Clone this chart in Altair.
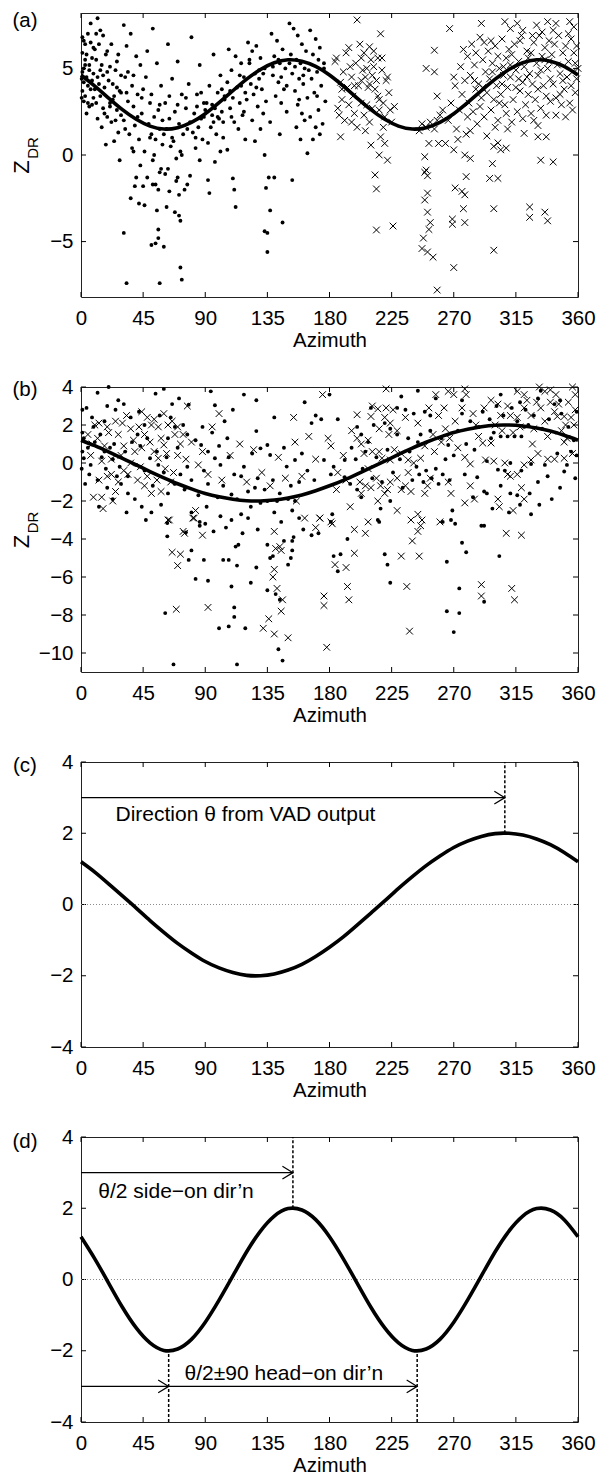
import altair as alt
import pandas as pd

FONT = "Liberation Sans"
FS = 20.5
W = 497
X_TICKS = [0, 45, 90, 135, 180, 225, 270, 315, 360]
Y_TICKS_A = [-5, 0, 5]
Y_TICKS_B = [-10, -8, -6, -4, -2, 0, 2, 4]
Y_TICKS_CD = [-4, -2, 0, 2, 4]

CURVE_AZ = [0, 10, 20, 30, 40, 50, 60, 70, 80, 90, 100, 110, 120, 130, 140, 150, 160, 170, 180,
            190, 200, 210, 220, 230, 240, 250, 260, 270, 280, 290, 300, 310, 320, 330, 340, 350, 360]
CURVE_A = [4.62, 3.98, 3.29, 2.62, 2.06, 1.67, 1.50, 1.58, 1.88, 2.38, 3.02, 3.71, 4.38, 4.94, 5.33, 5.50, 5.42, 5.12, 4.62,
           3.98, 3.29, 2.62, 2.06, 1.67, 1.50, 1.58, 1.88, 2.38, 3.02, 3.71, 4.38, 4.94, 5.33, 5.50, 5.42, 5.12, 4.62]
CURVE_BC = [1.20, 0.91, 0.58, 0.24, -0.10, -0.45, -0.78, -1.09, -1.36, -1.60, -1.78, -1.91, -1.99, -2.00, -1.95, -1.84, -1.68, -1.46, -1.20,
            -0.91, -0.58, -0.24, 0.10, 0.45, 0.78, 1.09, 1.36, 1.60, 1.78, 1.91, 1.99, 2.00, 1.95, 1.84, 1.68, 1.46, 1.20]
CURVE_D = [1.20, 0.58, -0.10, -0.78, -1.36, -1.78, -1.99, -1.95, -1.68, -1.20, -0.58, 0.10, 0.78, 1.36, 1.78, 1.99, 1.95, 1.68, 1.20,
           0.58, -0.10, -0.78, -1.36, -1.78, -1.99, -1.95, -1.68, -1.20, -0.58, 0.10, 0.78, 1.36, 1.78, 1.99, 1.95, 1.68, 1.20]

# panel (a): filled dots (azimuth, Z_DR)
A_DOTS = [
    [1, 6.8], [2, 6.6], [1, 5.9], [3, 5.5], [2, 5.0], [1, 4.8], [4, 4.5], [2, 4.2], [5, 4.0], [1, 3.7], [3, 3.4], [2, 3.1],
    [6, 2.8], [4, 2.4], [7, 6.5], [8, 5.6], [6, 5.2], [9, 4.7], [8, 4.3], [7, 3.8], [9, 3.3], [5, 3.0], [8, 2.9], [9, 6.2],
    [3, 6.4], [5, 7.0], [0.5, 4.4], [0.5, 3.3], [6, 4.9], [4, 5.8],
    [12, 7.9], [7, 7.6], [14, 7.2], [11, 7.0], [16, 6.9], [13, 6.4], [18, 5.8], [11, 5.5], [15, 5.2], [19, 4.8], [12, 4.5],
    [17, 3.9], [14, 3.4], [11, 3.0], [16, 2.7], [19, 2.2], [15, 1.6], [18, 0.6], [13, 4.1], [19, 6.0], [17, 2.4], [10, 3.8],
    [12, 2.1], [16, 4.6],
    [22, 6.4], [27, 5.8], [21, 5.1], [25, 4.9], [29, 4.6], [23, 4.1], [28, 3.7], [24, 3.4], [21, 3.0], [26, 2.6], [29, 2.3],
    [22, 1.9], [27, 1.3], [24, 0.8], [28, -0.3], [26, 5.4], [23, 3.2], [21, 2.8], [25, 2.0], [29, 3.6],
    [31, 7.5], [36, 7.0], [33, 6.3], [40, 5.7], [43, 5.2], [32, 4.5], [37, 4.0], [41, 3.5], [34, 3.1], [38, 2.8], [44, 2.4],
    [31, 2.0], [39, 1.7], [35, 1.2], [42, 0.9], [37, 0.4], [43, -0.6], [40, -1.3], [39, -1.8], [45, -1.8], [36, -2.5],
    [42, -2.8], [46, -2.9], [31, -4.5], [33, -7.4], [32, 1.5], [41, 2.2], [44, 3.3], [38, 0.2], [34, 4.8],
    [52, 7.3], [48, 6.0], [55, 5.3], [47, 4.5], [58, 4.0], [50, 3.0], [56, 2.6], [53, 2.2], [49, 1.8], [57, 1.5], [51, 1.2],
    [54, 0.9], [59, 0.6], [46, 0.2], [52, -0.3], [57, -1.0], [48, -1.3], [52, -1.7], [54, -1.7], [56, -2.0], [55, -3.2],
    [56, -4.3], [56, -4.8], [51, -5.2], [54, -5.1], [57, -7.4], [60, -5.3], [53, 0.0], [50, 1.0], [58, -0.8], [59, 2.0],
    [63, 6.4], [70, 5.4], [66, 4.4], [73, 3.5], [61, 3.0], [68, 2.5], [64, 2.1], [71, 1.8], [62, 1.5], [74, 1.2], [67, 0.8],
    [65, 0.5], [72, 0.2], [69, -0.2], [63, -0.8], [70, -1.3], [69, -1.5], [64, -2.1], [71, -2.3], [62, -3.0], [68, -3.3],
    [71, -3.5], [72, -3.8], [72, -6.5], [73, -7.2], [75, -2.0], [77, -1.7], [66, 1.0], [73, 0.0], [61, -1.1],
    [80, 6.8], [86, 5.2], [78, 4.1], [84, 3.5], [89, 3.0], [76, 2.7], [82, 2.4], [87, 2.1], [79, 1.9], [85, 1.6], [81, 1.3],
    [88, 0.9], [83, 0.4], [86, -0.3], [79, -1.2], [92, -1.45], [93, -2.2], [84, 2.8], [77, 1.5], [89, 2.2],
    [96, 5.8], [101, 4.6], [93, 4.0], [99, 3.6], [104, 3.2], [91, 3.0], [97, 2.7], [102, 2.5], [95, 2.3], [100, 2.1],
    [103, 1.9], [94, 1.6], [98, 1.2], [92, 0.7], [101, 0.2], [97, -0.4], [104, 3.4], [95, 2.9], [99, 2.2], [103, 1.0],
    [107, 6.1], [112, 5.7], [116, 5.3], [109, 4.9], [118, 4.5], [106, 4.2], [113, 3.9], [119, 3.6], [110, 3.3], [115, 3.0],
    [108, 2.7], [117, 2.3], [111, 1.9], [114, 1.5], [119, 0.9], [106, 0.3], [110, -1.35], [111, -2.0], [112, -3.0],
    [116, 4.0], [108, 3.7], [118, 2.5],
    [121, 6.5], [127, 6.3], [124, 6.0], [130, 5.6], [122, 5.3], [133, 5.0], [126, 4.7], [129, 4.4], [123, 4.1], [131, 3.8],
    [125, 3.5], [134, 3.1], [128, 2.8], [132, 2.4], [124, 2.0], [130, 1.5], [126, 0.8], [133, 0.0], [134, -1.9],
    [136, -1.3], [137, -3.2], [133, -4.4], [135, -4.5], [135, -5.6], [129, 4.9], [122, 5.5],
    [138, 7.0], [142, 6.6], [146, 6.1], [140, 5.7], [144, 5.3], [148, 5.0], [139, 4.6], [143, 4.2], [147, 3.8], [141, 3.4],
    [145, 3.0], [149, 2.5], [137, 1.9], [144, 1.2], [140, -1.3], [146, -3.9], [143, 5.5], [149, 4.0],
    [151, 7.6], [154, 7.3], [157, 6.9], [160, 6.4], [163, 6.0], [152, 5.8], [156, 5.5], [159, 5.3], [162, 5.0], [153, 4.7],
    [158, 4.4], [161, 4.1], [155, 3.7], [164, 3.3], [157, 2.9], [160, 2.4], [153, -1.45], [162, 2.0], [156, 1.6],
    [159, 0.9], [164, 0.1], [155, 5.1], [161, 4.6],
    [166, 7.2], [170, 6.7], [173, 6.2], [168, 5.8], [176, 5.3], [171, 4.8], [167, 4.4], [174, 4.0], [169, 3.6], [177, 3.1],
    [172, 2.6], [166, 2.2], [175, 1.8], [170, 1.6], [173, 1.2], [168, 0.9], [171, 3.4], [176, 5.0],
    [3, 5.2], [10, 6.1], [14, 4.9], [20, 4.3], [26, 3.9], [33, 3.6], [38, 4.6], [45, 3.8], [51, 3.5], [57, 2.9], [64, 3.4],
    [70, 2.9], [76, 3.3], [83, 1.0], [90, 2.6], [96, 1.9], [102, 3.8], [109, 2.2], [115, 4.6], [120, 3.2], [127, 3.9],
    [132, 4.7], [139, 5.1], [145, 4.5], [151, 5.3], [158, 3.2], [165, 4.9], [172, 5.5], [87, 3.6], [60, 1.2],
]

# panel (a): crosses
A_CROSSES = [
    [185, 5.6], [184, 5.4], [188, 4.2], [189, 3.2], [186, 2.7], [187, 2.3], [191, 2.0], [188, 1.05], [194, 6.2], [195, 5.1],
    [193, 3.9], [197, 3.4], [198, 2.4], [200, 1.6], [202, 6.4], [203, 5.6], [204, 4.9], [206, 4.5], [208, 3.9], [209, 6.25],
    [210, 5.5], [212, 5.1], [214, 4.3], [215, 3.4], [216, 3.2], [211, 2.7], [209, 1.9], [205, 2.3], [221, 4.3], [222, 4.5],
    [217, 7.0], [200, 7.8], [217, 1.05], [210, 0.57], [220, 0.67], [216, 0.0], [222, -0.3], [213, -1.15], [214, -1.96],
    [214, -4.33], [226, -4.1],
    [190, 4.8], [192, 5.9], [196, 4.5], [199, 5.3], [201, 4.0], [203, 3.0], [205, 5.9], [207, 5.0], [207, 2.9], [211, 4.6],
    [213, 3.8], [218, 4.9], [219, 3.0], [220, 2.2], [223, 3.6], [224, 2.6], [218, 5.6], [212, 6.0], [198, 4.0], [194, 2.9],
    [206, 1.4], [216, 2.6], [219, 1.6], [225, 1.9], [227, 2.8], [203, 4.3], [209, 4.1], [215, 5.6], [189, 3.8], [196, 1.9],
    [247, 1.8], [250, 1.6], [253, 1.9], [256, 1.5], [258, 2.0], [245, 1.4], [260, 2.3], [262, 2.6],
    [252, 0.67], [259, 0.67], [264, 0.67], [270, 0.3], [278, 0.0], [282, -0.2], [249, -0.1], [250, -0.87], [249, -1.0],
    [251, -1.2], [251, -2.2], [249, -2.6], [251, -3.3], [253, -3.9], [252, -4.3], [248, -4.8], [247, -5.4], [251, -5.6],
    [255, -5.9], [258, -7.8], [269, -3.7], [269, -4.0], [270, -6.5], [271, -1.9], [276, -2.1], [278, -2.3], [277, -3.1],
    [278, -3.9], [279, -1.25], [296, -1.35], [302, -1.35], [299, -3.1], [299, -5.5], [325, -3.0], [325, -3.6], [336, -3.3],
    [338, -3.8], [298, -0.5], [299, 0.5], [302, 0.7], [304, 0.3], [308, 0.4], [321, 1.25], [331, 1.05], [337, 1.05],
    [331, 1.7], [333, -0.3], [342, -0.4],
    [267, 7.3], [256, 6.05], [250, 5.0], [256, 4.8], [270, 4.5], [258, 3.4], [290, 7.6], [307, 7.7], [311, 7.3], [316, 7.6],
    [320, 7.2], [330, 7.5], [338, 7.7], [344, 7.6], [354, 7.7], [357, 7.4],
    [266, 2.0], [268, 3.0], [272, 1.5], [274, 2.6], [276, 3.5], [279, 1.2], [271, 4.0], [275, 5.1], [278, 4.3], [280, 2.2],
    [273, 0.9], [277, 6.1], [280, 5.7],
    [281, 3.0], [282, 4.6], [283, 6.4], [284, 2.5], [285, 5.2], [286, 3.8], [287, 1.8], [288, 4.1], [289, 6.8], [290, 3.3],
    [291, 5.5], [292, 2.2], [293, 4.8], [294, 3.6], [295, 6.0], [282, 1.4], [286, 5.9], [289, 2.8], [292, 6.5], [294, 1.1],
    [285, 4.3], [291, 3.9],
    [296, 4.4], [297, 2.6], [298, 5.3], [299, 3.2], [300, 6.3], [301, 4.0], [302, 2.0], [303, 5.0], [304, 3.5], [305, 6.7],
    [306, 4.6], [307, 2.9], [308, 5.6], [309, 3.9], [310, 6.1], [297, 6.6], [300, 1.6], [303, 3.0], [306, 5.1], [309, 1.5],
    [298, 4.8], [305, 4.1], [302, 5.7], [308, 2.4],
    [311, 4.5], [312, 5.8], [313, 3.2], [314, 6.4], [315, 4.9], [316, 2.5], [317, 5.4], [318, 3.7], [319, 6.9], [320, 4.2],
    [321, 5.1], [322, 2.9], [323, 6.0], [324, 3.5], [325, 4.7], [312, 1.9], [315, 3.9], [318, 6.6], [320, 2.1], [323, 4.5],
    [311, 5.2], [317, 4.4], [324, 5.6], [326, 2.4],
    [326, 5.9], [327, 4.1], [328, 6.5], [329, 3.2], [330, 5.3], [331, 4.6], [332, 6.9], [333, 2.7], [334, 5.7], [335, 4.0],
    [336, 6.2], [337, 3.4], [338, 5.0], [339, 6.6], [340, 4.4], [328, 2.0], [331, 3.8], [334, 7.1], [337, 2.3], [339, 5.4],
    [327, 6.9], [333, 4.9], [336, 5.5], [340, 3.1],
    [341, 5.8], [342, 4.1], [343, 6.4], [344, 3.3], [345, 5.2], [346, 6.9], [347, 4.7], [348, 2.9], [349, 5.9], [350, 3.8],
    [351, 6.3], [352, 4.5], [353, 5.4], [354, 3.0], [355, 6.7], [356, 4.8], [357, 5.9], [358, 3.6], [359, 6.3], [360, 5.0],
    [344, 2.3], [349, 4.3], [353, 7.0], [356, 2.6], [358, 5.3], [342, 7.2], [347, 3.5], [351, 2.2], [355, 4.0], [359, 4.4],
]

# panel (b): filled dots
B_DOTS = [
    [1, 2.8], [4, 2.9], [12, 3.7], [19, 3.0], [27, 3.3], [31, 3.1], [25, 2.8], [42, 2.7], [54, 3.65], [66, 3.1], [71, 3.4],
    [78, 3.07], [94, 3.77], [97, 3.04], [88, 1.9], [104, 2.2], [106, 1.3], [127, 3.3], [127, 1.68], [130, 0.77], [135, 0.95],
    [137, 0.42], [149, -0.19], [155, 0.16], [87, 0.95], [92, 0.6], [97, 0.25], [101, -0.1], [111, -0.6], [116, -0.7],
    [121, -1.5], [126, -1.3], [109, -1.66], [92, -1.1], [99, -1.8], [91, -2.3], [101, -2.8], [109, -3.0], [116, -2.7],
    [123, -2.3], [130, -2.1], [135, -2.0], [142, -2.0], [150, -1.9], [155, -2.0], [121, -2.9],
    [1, 0.6], [2, 0.25], [7, -0.1], [6, -0.6], [15, 0.3], [17, 0.6], [21, 0.8], [24, 1.0], [12, -0.9], [19, -1.3],
    [29, -1.1], [34, -1.6], [39, -1.9], [44, -2.3], [51, -2.6], [58, -2.2], [63, -1.6], [68, -1.1], [72, -0.6], [77, -0.2],
    [46, -0.4], [50, 0.25], [56, -0.1], [34, -0.7], [28, -0.2], [63, 1.3], [68, 1.9], [74, 2.0], [77, 1.5], [41, 1.5],
    [46, 2.0], [36, 2.4], [17, 2.2], [9, 1.9], [2, 1.3], [10, 1.1],
    [0.5, -0.3], [1, 1.6], [3, -1.1], [5, 0.8], [8, 2.4], [14, 1.5], [18, -0.3], [23, 0.2], [26, -0.7], [32, 0.6], [37, 1.1],
    [40, -0.1], [43, 0.9], [48, 1.3], [52, -1.2], [55, 0.6], [60, -0.5], [62, 0.3], [65, 2.4], [70, 0.8], [75, -1.4],
    [80, -0.9], [83, 1.2], [85, -1.7], [89, -0.4], [95, 1.6], [100, 0.9], [103, -1.2], [107, 0.3], [113, -1.9], [118, -0.2],
    [124, 0.5], [128, -0.8], [133, -1.4], [139, -0.9], [144, -1.6], [147, 0.8], [152, -1.2], [57, 2.5], [33, -2.6],
    [23, -1.9], [13, -2.3], [47, -3.0], [80, -2.6], [86, -3.3], [96, -3.6], [140, -2.6], [145, -3.1], [158, -2.9],
    [62.5, -3.16], [62.5, -3.86], [61, -7.9], [67, -10.6], [76, -3.65], [78, -5.1], [80, -4.6], [83, -6.1], [86, -3.1],
    [89, -5.1], [92, -6.2], [90, -3.2], [103, -5.1], [105, -3.4], [107, -5.1], [109, -6.5], [111, -7.6], [111, -8.1],
    [100, -8.7], [107, -8.6], [113, -10.6], [112, -4.4], [114, -4.3], [113, -5.4], [117, -3.7], [119, -8.7], [123, -6.3],
    [127, -5.5], [128, -3.5], [135, -4.3], [135, -6.7], [137, -5.0], [139, -4.9], [141, -6.9], [144, -7.2], [143, -9.8],
    [146, -10.4], [147, -4.1], [150, -5.35], [153, -4.1], [153, -4.6], [152, -5.0], [154, -3.9], [161, -3.5], [167, -3.8],
    [172, -3.7], [181, -3.1], [183, -4.9], [186, -5.7], [188, -4.8], [193, -4.0], [220, -4.8], [222, -5.35], [224, -6.3],
    [216, -3.1], [265, -5.2], [265, -7.8], [270, -8.9], [271, -3.2], [274, -6.6], [274, -7.9], [276, -4.2], [279, -4.7],
    [292, -3.3], [292, -7.3], [303, -4.9], [262, -3.1],
    [244, 3.8], [304, 3.6], [331, 3.4], [333, 3.8], [343, 3.1], [229, 2.9], [235, 2.8], [241, 2.6], [249, 2.7], [253, 2.5],
    [200, 1.9], [203, 1.5], [212, 2.0], [220, 2.1], [224, 1.8], [229, 1.5], [237, 1.3], [244, 1.1], [246, 1.5], [253, 1.7],
    [261, 1.3], [266, 0.95], [297, 1.3], [299, 1.6], [304, 1.4], [309, 1.4], [314, 1.4], [319, 1.4], [321, 1.9], [324, 2.0],
    [294, 0.1], [302, -0.35], [307, -0.4], [311, 0.0], [319, -0.4], [326, -0.05], [336, -0.1], [345, 0.5], [352, -0.1],
    [355, 0.6], [350, -0.45], [338, -0.7], [331, -1.0], [325, -1.6], [332, -2.2], [326, -2.7], [167, 2.1], [170, 2.5],
    [174, 2.3], [186, 2.3], [176, 0.16], [183, -0.2], [191, 0.16], [160, 0.5], [164, -0.4], [158, -1.0], [169, -0.9],
    [181, -0.6], [191, -0.75], [195, -1.1], [200, -1.4], [203, -1.8], [182, -2.7], [153, -2.5], [215, -3.0], [268, -3.0],
    [290, -3.3], [269, -2.5], [224, -2.0], [217, -2.4], [292, -1.5], [294, -1.6], [287, -0.75], [304, -1.2], [311, -1.6],
    [316, -1.7],
    [196, 0.8], [199, 0.2], [204, -0.3], [206, 0.6], [208, 1.1], [211, -0.8], [214, 0.3], [218, -1.0], [222, 0.7],
    [226, -0.5], [231, 0.2], [233, -1.3], [238, 0.6], [240, -0.9], [243, -0.2], [245, -0.6], [248, -1.0], [250, -0.4],
    [254, -0.8], [257, -0.3], [259, -1.1], [262, -0.6], [264, 0.2], [267, -0.9], [270, 0.4], [273, 1.7], [276, 2.6],
    [279, 1.0], [282, 2.2], [285, 0.7], [288, 1.9], [291, 2.7], [296, 2.3], [301, 3.0], [306, 2.5], [312, 2.9], [316, 2.2],
    [322, 2.8], [328, 2.5], [334, 1.8], [339, 2.3], [344, 1.6], [348, 2.6], [353, 1.9], [357, 1.2], [359, 0.4], [358, -0.8],
    [347, -1.3], [341, -1.9], [318, -2.2], [310, -2.6], [298, -2.4], [284, -1.8], [278, -0.6], [359, 2.7], [347, 3.3],
    [318, 3.2], [276, 3.3], [257, 3.4], [232, 3.5], [210, 2.9], [162, 3.2], [180, 3.6], [140, 2.4], [118, 3.6], [60, 3.9],
    [20, 4.0], [110, 2.8],
]

# panel (b): crosses
B_CROSSES = [
    [10, 2.0], [13, 2.1], [19, 1.9], [27, 1.5], [33, 2.5], [30, 2.1], [44, 2.7], [48, 2.4], [51, 2.0], [56, 1.9], [60, 2.6],
    [63, 2.0], [70, 1.9], [68, 1.5], [60, 0.95], [72, 1.0], [77, 3.0], [7, 0.4], [15, 0.1], [22, 0.2], [29, 0.4], [39, 0.6],
    [44, 0.8], [53, 0.6], [56, 0.25], [70, 0.4], [85, -0.1], [13, -0.9], [22, -0.6], [27, -1.0], [34, -0.6], [41, -0.9],
    [46, -1.2], [51, -1.6], [58, -1.5], [65, -1.0], [9, -1.8], [15, -1.8], [23, -2.0], [16, -2.4], [63, -3.0], [81, -2.9],
    [83, -2.5],
    [5, 1.5], [8, 1.0], [12, 1.3], [17, 0.9], [20, 1.6], [25, 2.2], [31, 0.9], [36, 1.8], [38, 1.2], [42, 1.9], [46, 1.5],
    [50, 1.1], [53, 2.3], [58, 1.3], [62, 0.5], [66, 2.2], [74, 1.5], [36, 0.0], [31, -0.4], [25, -1.5], [19, -0.7],
    [43, -0.2], [48, -0.7], [55, -0.9], [61, -0.3], [67, -0.5], [76, 0.2], [80, 1.1], [88, 0.6], [92, -0.6], [95, 1.9],
    [102, -0.9], [108, 0.4], [115, 1.0], [120, -1.0], [125, 0.7], [131, -0.5], [137, -1.2], [143, 0.3], [148, -0.8],
    [100, 2.6],
    [64, -3.0], [66, -4.7], [72, -4.8], [70, -5.4], [69, -7.7], [74, -3.6], [75, -3.7], [88, -3.8], [92, -7.6], [82, -2.9],
    [140, -3.6], [141, -4.5], [144, -4.4], [145, -4.6], [139, -6.0], [140, -5.6], [142, -6.6], [145, -7.8], [146, -7.2],
    [136, -8.2], [132, -8.7], [140, -9.0], [150, -9.2], [176, -7.0], [176, -7.5], [178, -9.7], [173, -2.9], [182, -3.2],
    [184, -5.35], [192, -5.5], [193, -6.5], [194, -7.2], [198, -4.75], [198, -3.5], [206, -3.7], [232, -4.9], [236, -6.5],
    [238, -8.85], [240, -4.1], [244, -3.6], [245, -4.9], [247, -3.0], [246, -3.3], [260, -3.1], [290, -6.4], [290, -7.0],
    [308, -3.7], [312, -6.6], [314, -7.2], [319, -3.8],
    [175, 3.6], [221, 3.9], [257, 3.6], [266, 3.77], [270, 3.6], [278, 3.9], [279, 3.6], [316, 3.77], [321, 3.6], [332, 4.0],
    [336, 3.77], [340, 3.85], [356, 4.0], [358, 3.6], [154, 2.4], [200, 2.54], [211, 3.0], [215, 2.85], [221, 2.9],
    [210, 2.45], [220, 2.4], [224, 2.1], [229, 1.7], [223, 1.5], [252, 2.9], [259, 2.5], [263, 2.9], [276, 2.9], [284, 2.6],
    [292, 2.9], [297, 3.3], [302, 3.1], [304, 2.5], [311, 2.5], [316, 2.4], [321, 2.9], [326, 2.5], [340, 3.2], [345, 2.45],
    [350, 2.45], [355, 2.4], [346, 3.1], [351, 2.0], [357, 2.0], [336, 2.2], [181, 0.9], [179, 1.3], [200, 1.3], [203, 1.0],
    [208, 1.2], [205, 0.5], [211, 0.6], [216, 0.6], [218, 0.25], [224, 0.16], [227, 0.7], [232, 0.5], [237, 0.16],
    [241, 0.0], [246, 0.25], [249, 0.9], [256, 0.6], [261, 1.1], [267, 1.3], [273, 0.8], [278, 0.3], [282, -0.05],
    [291, 1.05], [297, 1.05], [293, 0.16], [299, 0.1], [307, 0.0], [309, -0.6], [311, -0.7], [316, -0.6], [321, -0.1],
    [326, 0.16], [331, 0.5], [338, 0.2], [343, 0.2], [350, 0.25], [356, 0.5], [352, 1.3], [350, 1.1], [327, 1.0],
    [253, -0.8], [251, -1.2], [249, -1.6], [266, -1.0], [268, -1.6], [282, -1.2], [278, -2.1], [285, -1.9], [302, -1.9],
    [303, -2.3], [313, -2.5], [319, -1.3], [321, -1.9], [237, -0.5], [229, -0.8], [224, -1.0], [217, -1.2], [220, -1.6],
    [210, -1.3], [215, -2.0], [222, -1.4], [206, -1.2], [229, -2.5], [244, -2.7], [239, -3.0], [208, -3.1], [195, -2.3],
    [181, -3.1], [155, 1.1], [156, -2.0], [162, -2.9], [173, -2.9], [170, -3.4], [202, -1.0], [203, -1.6], [208, -0.3],
    [214, -0.8], [235, -1.2], [239, -1.5], [232, -1.4],
    [300, 2.0], [305, 1.7], [309, 3.0], [313, 1.6], [318, 1.9], [323, 3.3], [328, 1.8], [333, 2.9], [338, 1.4], [343, 2.7],
    [348, 1.7], [353, 3.2], [358, 2.8], [344, 3.6], [330, 3.2], [286, 2.0], [288, 1.4], [271, 2.2], [264, 1.8], [255, 1.5],
    [244, 2.1], [235, 2.4], [226, 2.8], [216, 1.8], [196, 1.7], [190, 0.4], [186, -0.5], [160, -0.7], [165, 1.4],
    [170, 0.2], [185, -1.4], [192, -0.9],
]

# annotations: [start azimuth, end azimuth, Z_DR]
C_ARROWS = [[0, 307, 3]]
C_DASHES = [[307, 2, 4]]
C_TEXTS = [["Direction \u03b8 from VAD output", 25, 2.52]]
D_ARROWS = [[0, 153.5, 3], [0, 63.5, -3], [63.5, 243.5, -3]]
D_DASHES = [[153.5, 2, 4], [63.5, -4, -2], [243.5, -4, -2]]
D_TEXTS = [["\u03b8/2 side\u2212on dir\u2019n", 12.5, 2.45], ["\u03b8/2\u00b190 head\u2212on dir\u2019n", 75, -2.65]]

CROSS = "M-1,-1L1,1M-1,1L1,-1"
CHEV = "M-1,-0.6L0,0L-1,0.6"


def make_panel(H, ydom, yticks, label, label_dy, dots=None, crosses=None, curve=None,
               zero=False, arrows=None, dashes=None, texts=None, zdr=False, anchor=False):
    XS = alt.Scale(domain=[0, 360], nice=False, zero=False)
    YS = alt.Scale(domain=ydom, nice=False, zero=False)
    xaxis = alt.Axis(values=X_TICKS, title="Azimuth", ticks=False, domain=False, grid=False,
                     labelPadding=11, titlePadding=2, labelFont=FONT, titleFont=FONT, labelFontSize=FS,
                     titleFontSize=FS, titleFontWeight="normal", labelColor="black", titleColor="black",
                     labelFlush=False, labelOverlap=False)
    yaxis = alt.Axis(values=yticks, title=None, ticks=False, domain=False, grid=False,
                     labelPadding=8, labelFont=FONT, labelFontSize=FS, labelColor="black",
                     labelFlush=False, labelOverlap=False)

    def X(f):
        return alt.X(f, scale=XS, axis=xaxis)

    def Y(f):
        return alt.Y(f, scale=YS, axis=yaxis)

    xt = pd.DataFrame({"az": X_TICKS})
    yt = pd.DataFrame({"z": yticks})
    layers = []
    # inward ticks on all four sides
    layers.append(alt.Chart(xt).mark_rule(color="black", strokeWidth=1)
                  .encode(x=X("az:Q"), y=alt.value(H), y2=alt.value(H - 5)))
    layers.append(alt.Chart(yt).mark_rule(color="black", strokeWidth=1)
                  .encode(y=Y("z:Q"), x=alt.value(0), x2=alt.value(5)))
    layers.append(alt.Chart(xt).mark_rule(color="black", strokeWidth=1)
                  .encode(x=X("az:Q"), y=alt.value(0), y2=alt.value(5)))
    layers.append(alt.Chart(yt).mark_rule(color="black", strokeWidth=1)
                  .encode(y=Y("z:Q"), x=alt.value(W - 5), x2=alt.value(W)))
    if zero:
        layers.append(alt.Chart(pd.DataFrame({"z": [0]})).mark_rule(color="#8c8c8c", strokeDash=[1, 2], strokeWidth=1)
                      .encode(y=Y("z:Q"), x=alt.value(0), x2=alt.value(W)))
    if dots is not None:
        layers.append(alt.Chart(pd.DataFrame(dots, columns=["az", "z"])).mark_circle(size=15, color="black", opacity=1)
                      .encode(x=X("az:Q"), y=Y("z:Q")))
    if crosses is not None:
        layers.append(alt.Chart(pd.DataFrame(crosses, columns=["az", "z"]))
                      .mark_point(shape=CROSS, size=45, filled=False, color="black", strokeWidth=1, opacity=1)
                      .encode(x=X("az:Q"), y=Y("z:Q")))
    if curve is not None:
        layers.append(alt.Chart(pd.DataFrame({"az": CURVE_AZ, "z": curve}))
                      .mark_line(color="black", strokeWidth=3.6, interpolate="natural")
                      .encode(x=X("az:Q"), y=Y("z:Q")))
    if dashes is not None:
        layers.append(alt.Chart(pd.DataFrame(dashes, columns=["az", "z0", "z1"]))
                      .mark_rule(color="black", strokeDash=[3, 2], strokeWidth=1.5)
                      .encode(x=X("az:Q"), y=Y("z0:Q"), y2="z1:Q"))
    if arrows is not None:
        adf = pd.DataFrame(arrows, columns=["a0", "a1", "z"])
        layers.append(alt.Chart(adf).mark_rule(color="black", strokeWidth=1.2)
                      .encode(x=X("a0:Q"), x2="a1:Q", y=Y("z:Q")))
        layers.append(alt.Chart(adf).mark_point(shape=CHEV, size=440, filled=False, color="black", strokeWidth=1.2, opacity=1)
                      .encode(x=X("a1:Q"), y=Y("z:Q")))
    if texts is not None:
        layers.append(alt.Chart(pd.DataFrame(texts, columns=["t", "az", "z"]))
                      .mark_text(align="left", baseline="middle", font=FONT, fontSize=21, color="black")
                      .encode(x=X("az:Q"), y=Y("z:Q"), text="t:N"))
    layers.append(alt.Chart(pd.DataFrame({"t": [label]}))
                  .mark_text(align="center", baseline="middle", font=FONT, fontSize=FS, color="black")
                  .encode(text="t:N", x=alt.value(-56), y=alt.value(label_dy)))
    if zdr:
        layers.append(alt.Chart(pd.DataFrame({"t": ["Z"]}))
                      .mark_text(align="center", baseline="middle", font=FONT, fontSize=22, color="black", angle=270)
                      .encode(text="t:N", x=alt.value(-59), y=alt.value(H / 2 + 12)))
        layers.append(alt.Chart(pd.DataFrame({"t": ["DR"]}))
                      .mark_text(align="center", baseline="middle", font=FONT, fontSize=15, color="black", angle=270)
                      .encode(text="t:N", x=alt.value(-48), y=alt.value(H / 2 - 7)))
    if anchor:
        layers.append(alt.Chart(pd.DataFrame({"v": [0]})).mark_rule(opacity=0, strokeWidth=0.01)
                      .encode(x=alt.value(-80), x2=alt.value(-76), y=alt.value(-12), y2=alt.value(-12)))
    return alt.layer(*layers).properties(width=W, height=H)


pa = make_panel(284, [-8.2, 8.2], Y_TICKS_A, "(a)", 8, dots=A_DOTS, crosses=A_CROSSES, curve=CURVE_A,
                zdr=True, anchor=True)
pb = make_panel(285, [-11, 4], Y_TICKS_B, "(b)", 3, dots=B_DOTS, crosses=B_CROSSES, curve=CURVE_BC, zdr=True)
pc = make_panel(285, [-4, 4], Y_TICKS_CD, "(c)", 4, curve=CURVE_BC, zero=True,
                arrows=C_ARROWS, dashes=C_DASHES, texts=C_TEXTS)
pd_ = make_panel(285, [-4, 4], Y_TICKS_CD, "(d)", 5, curve=CURVE_D, zero=True,
                 arrows=D_ARROWS, dashes=D_DASHES, texts=D_TEXTS)

chart = (alt.vconcat(pa, pb, pc, pd_, spacing=90, bounds="flush")
         .resolve_scale(x="independent", y="independent")
         .properties(padding={"left": 0, "top": 0, "right": 0, "bottom": 0}, background="white")
         .configure_view(stroke="#222", strokeWidth=1))

chart.save("out.html", embed_options={"renderer": "svg", "actions": False})
